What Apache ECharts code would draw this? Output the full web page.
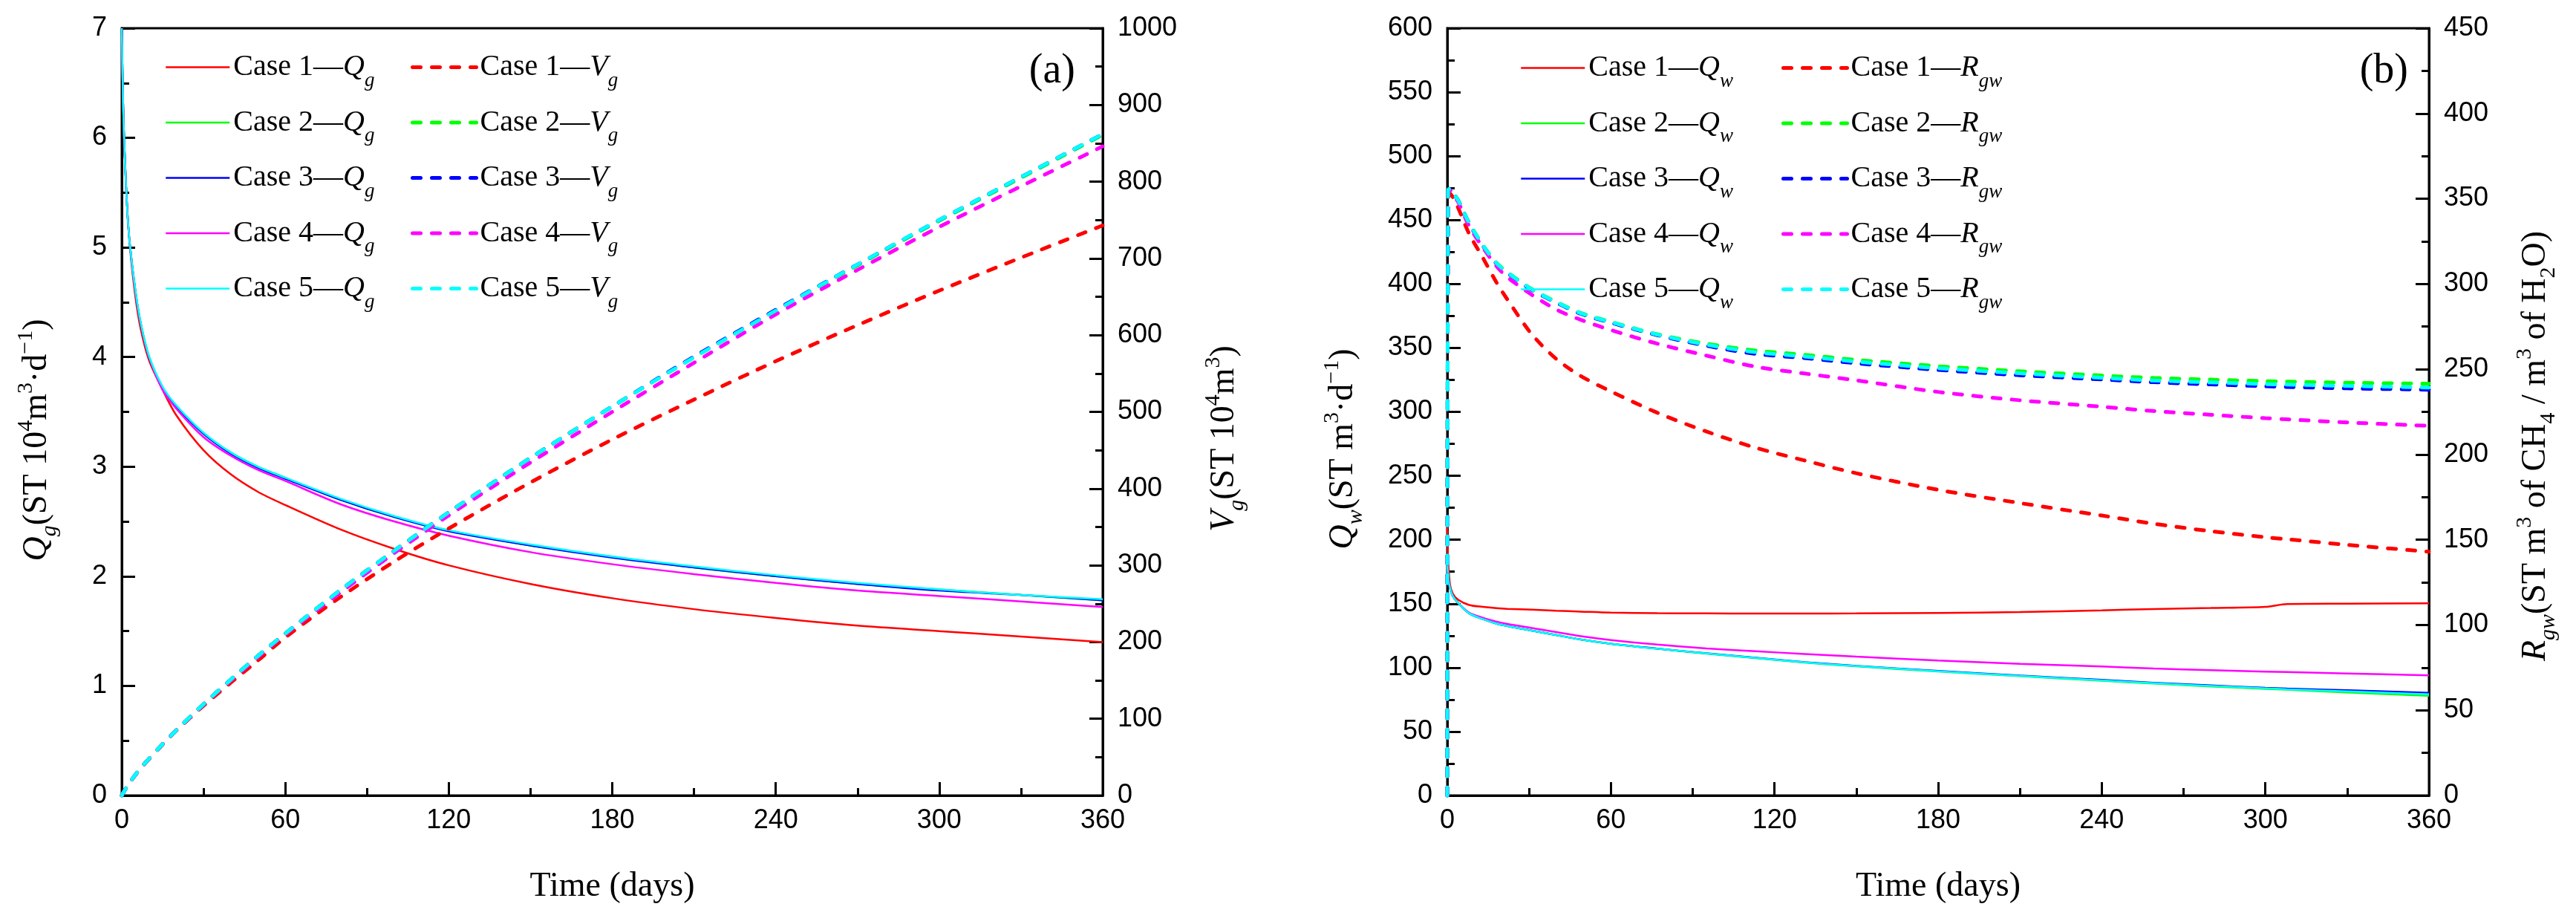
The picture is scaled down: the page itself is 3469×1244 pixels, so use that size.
<!DOCTYPE html>
<html>
<head>
<meta charset="utf-8">
<script src="https://cdn.jsdelivr.net/npm/echarts@6/dist/echarts.min.js"></script>
<style>
html,body{margin:0;padding:0;background:#fff;}
#chart{width:3469px;height:1244px;}
</style>
</head>
<body>
<div id="chart"></div>
<script>
// ---------- DATA ----------
var caseColors = ['#FF0000', '#00FF00', '#0000FF', '#FF00FF', '#00FFFF'];
var caseLabels = ['Case 1', 'Case 2', 'Case 3', 'Case 4', 'Case 5'];

// Panel (a): time (days)
var tA = [0, 0.5, 1, 2, 3, 5, 7, 10, 15, 20, 30, 40, 50, 60, 80, 100, 120, 150, 180, 210, 240, 270, 300, 330, 360];
// Qg (10^4 m3/d)
var qg1 = [7.0, 6.3, 5.9, 5.35, 5.0, 4.55, 4.25, 3.97, 3.7, 3.47, 3.15, 2.93, 2.77, 2.65, 2.43, 2.25, 2.1, 1.93, 1.8, 1.7, 1.62, 1.55, 1.5, 1.45, 1.40];
var qg2 = [7.0, 6.3, 5.9, 5.35, 5.02, 4.6, 4.3, 4.0, 3.72, 3.55, 3.3, 3.13, 3.0, 2.9, 2.7, 2.54, 2.42, 2.28, 2.18, 2.08, 2.0, 1.93, 1.88, 1.83, 1.78];
var qg3 = [7.0, 6.3, 5.9, 5.35, 5.02, 4.6, 4.3, 4.0, 3.72, 3.55, 3.3, 3.12, 2.99, 2.89, 2.7, 2.54, 2.41, 2.28, 2.17, 2.08, 2.0, 1.93, 1.87, 1.83, 1.78];
var qg4 = [7.0, 6.3, 5.9, 5.35, 5.02, 4.6, 4.3, 4.0, 3.7, 3.53, 3.27, 3.1, 2.97, 2.87, 2.66, 2.5, 2.37, 2.22, 2.11, 2.02, 1.94, 1.87, 1.82, 1.77, 1.72];
var qg5 = [7.0, 6.3, 5.9, 5.35, 5.02, 4.61, 4.31, 4.01, 3.73, 3.56, 3.31, 3.13, 3.0, 2.9, 2.71, 2.55, 2.42, 2.29, 2.18, 2.09, 2.01, 1.94, 1.88, 1.83, 1.79];
// Vg (10^4 m3)
var vg1 = [0, 3.3, 6.3, 12, 17.2, 26.7, 35.5, 47.5, 66.5, 84.5, 117, 147, 176, 206, 258, 305, 348, 408, 464, 516, 566, 613, 658, 701, 743];
var vg2 = [0, 3.3, 6.3, 12, 17.3, 27, 36, 48, 67, 85, 119, 151, 182, 211, 267, 319, 369, 440, 507, 571, 632, 691, 749, 805, 861];
var vg3 = [0, 3.3, 6.3, 12, 17.3, 27, 36, 48, 67, 85, 119, 151, 182, 211, 267, 319, 369, 440, 507, 572, 633, 692, 750, 806, 862];
var vg4 = [0, 3.3, 6.3, 12, 17.3, 27, 36, 48, 67, 85, 118.5, 150, 180.5, 210, 264, 316, 365, 434, 500, 564, 627, 685, 741, 794, 846];
var vg5 = [0, 3.3, 6.3, 12, 17.3, 27, 36, 48, 67, 85, 119, 151, 182, 211, 267, 319, 369, 440, 507, 571, 632, 692, 750, 806, 862];

// Panel (b): time (days)
var tB = [0, 0.3, 1, 2, 4, 8, 13, 18, 22, 31, 40, 49, 60, 77, 95, 113, 131, 150, 180, 210, 240, 259, 280, 300, 308, 330, 360];
// Qw (m3/d)
var qw1 = [210, 185, 165, 158, 153, 149, 147.5, 146.5, 146, 145.3, 144.5, 143.8, 143, 142.6, 142.4, 142.3, 142.3, 142.4, 142.8, 143.5, 144.8, 145.8, 146.6, 147.5, 149.7, 150, 150.3];
var qw2 = [185, 172, 162, 156, 150.5, 142.5, 138, 134.5, 132.6, 129, 125.5, 122, 118.7, 114.8, 111, 107.5, 104, 101, 97, 93.3, 89.8, 87.5, 85.3, 83.4, 82.7, 80.6, 78.0];
var qw3 = [185, 172, 162, 156, 150.5, 142.5, 138, 134.5, 132.6, 129, 125.5, 122, 118.7, 114.9, 111.2, 107.8, 104.3, 101.4, 97.4, 93.8, 90.4, 88.2, 86.1, 84.2, 83.6, 82.3, 80.3];
var qw4 = [185, 172, 162, 156, 150.5, 143, 139, 136, 134.2, 131, 127.8, 124.6, 121.6, 118, 115, 112.8, 110.7, 108.6, 105.6, 103, 100.9, 99.3, 98, 96.9, 96.5, 95.4, 93.9];
var qw5 = [185, 172, 162, 156, 150.5, 142.5, 138, 134.5, 132.6, 129, 125.5, 122, 118.7, 114.8, 111.1, 107.6, 104.1, 101.2, 97.2, 93.5, 90.1, 87.8, 85.7, 83.8, 83.1, 81.4, 79.2];
// Rgw (ST m3 CH4 / m3 H2O)
var rgw1 = [0, 350, 353, 351, 344.6, 329.5, 315.5, 301, 291, 270.5, 256, 246, 237, 224.5, 213.5, 204, 196.5, 189, 179.3, 171.5, 164.2, 159.4, 155, 151.5, 150.3, 147, 143];
var rgw2 = [0, 355, 356, 353.5, 349, 336, 323, 312.5, 307, 297, 289.5, 283, 277.8, 270.5, 265, 261, 258.5, 255.5, 251.8, 248.8, 246.3, 244.9, 243.9, 243, 242.7, 242.1, 241.5];
var rgw3 = [0, 355, 356, 353.5, 349, 335.5, 322.5, 312, 306.5, 296.5, 289, 282.5, 277.3, 270, 263.8, 259, 256.6, 253.5, 249.6, 246.5, 244, 242.4, 241.1, 240, 239.6, 238.8, 238];
var rgw4 = [0, 354, 355, 352.5, 348, 334, 321.5, 310.5, 304, 293.7, 285, 279, 273, 265, 258, 251.5, 247.5, 243.5, 236.7, 231.8, 228, 225.5, 223.3, 221.3, 220.6, 218.8, 216.8];
var rgw5 = [0, 355, 356, 353.5, 349, 335.8, 322.8, 312.3, 306.8, 296.8, 289.3, 282.8, 277.6, 270.3, 264.4, 260, 257.5, 254.5, 250.6, 247.6, 245, 243.4, 242.3, 241.3, 241, 240.2, 239.3];

// Axis tick settings
var xTicks = {min: 0, max: 360, interval: 60};
var yQg = {min: 0, max: 7, interval: 1};
var yVg = {min: 0, max: 1000, interval: 100};
var yQw = {min: 0, max: 600, interval: 50};
var yRgw = {min: 0, max: 450, interval: 50};

// ---------- BUILD ----------
var SERIF = "'Liberation Serif','Times New Roman',serif";
var SANS = "'Liberation Sans',Arial,sans-serif";

function zip(t, v) { return t.map(function (x, i) { return [x, v[i]]; }); }

var qgAll = [qg1, qg2, qg3, qg4, qg5];
var vgAll = [vg1, vg2, vg3, vg4, vg5];
var qwAll = [qw1, qw2, qw3, qw4, qw5];
var rgwAll = [rgw1, rgw2, rgw3, rgw4, rgw5];

var series = [];
function addSeries(names, arrs, t, xi, yi, dashed) {
  arrs.forEach(function (arr, k) {
    series.push({
      name: names[k], type: 'line', xAxisIndex: xi, yAxisIndex: yi,
      data: zip(t, arr), symbol: 'none', showSymbol: false,
      smooth: 0.3, animation: false,
      lineStyle: dashed ? {color: caseColors[k], width: 5, type: [11, 15], cap: 'round'}
                        : {color: caseColors[k], width: 2.5},
      itemStyle: {color: caseColors[k]},
      z: dashed ? 3 : 2
    });
  });
}
var nQg = caseLabels.map(function (c) { return c + '|Qg'; });
var nVg = caseLabels.map(function (c) { return c + '|Vg'; });
var nQw = caseLabels.map(function (c) { return c + '|Qw'; });
var nRgw = caseLabels.map(function (c) { return c + '|Rgw'; });
addSeries(nQg, qgAll, tA, 0, 0, false);
addSeries(nVg, vgAll, tA, 0, 1, true);
addSeries(nQw, qwAll, tB, 1, 2, false);
addSeries(nRgw, rgwAll, tB, 1, 3, true);

var legendRich = {
  t: {fontFamily: SERIF, fontSize: 40, lineHeight: 46, color: '#000'},
  i: {fontFamily: SERIF, fontSize: 40, fontStyle: 'italic', lineHeight: 46, color: '#000'},
  s: {fontFamily: SERIF, fontSize: 27, fontStyle: 'italic', lineHeight: 46, color: '#000', padding: [36, 0, 0, 0]}
};
function legendFmt(name) {
  var p = name.split('|');
  var sym = p[1].charAt(0), sub = p[1].slice(1);
  return '{t|' + p[0] + '\u2014}{i|' + sym + '}{s|' + sub + '}';
}
function mkLegend(data, left, top, lw) {
  return {
    data: data, orient: 'vertical', left: left, top: top, padding: 0,
    itemWidth: 86, itemHeight: 20, itemGap: 11.5, itemTextGap: 10,
    itemStyle: {opacity: 0, borderWidth: 0},
    lineStyle: {width: lw},
    formatter: legendFmt, textStyle: {rich: legendRich}, selectedMode: false
  };
}

var nameRich = {
  n: {fontFamily: SERIF, fontSize: 46, lineHeight: 56, color: '#000'},
  i: {fontFamily: SERIF, fontSize: 46, fontStyle: 'italic', lineHeight: 56, color: '#000'},
  si: {fontFamily: SERIF, fontSize: 30, fontStyle: 'italic', lineHeight: 56, color: '#000', padding: [34, 0, 0, 0]},
  sn: {fontFamily: SERIF, fontSize: 30, lineHeight: 56, color: '#000', padding: [34, 0, 0, 0]},
  up: {fontFamily: SERIF, fontSize: 30, lineHeight: 56, color: '#000', padding: [0, 0, 30, 0]}
};

function plainNum(v) { return String(v); }

function xAxisCfg(gi) {
  return {
    type: 'value', gridIndex: gi, min: xTicks.min, max: xTicks.max, interval: xTicks.interval,
    name: 'Time (days)', nameLocation: 'middle', nameGap: 100,
    nameTextStyle: {fontFamily: SERIF, fontSize: 46, color: '#000'},
    axisLine: {show: true, onZero: false, lineStyle: {color: '#000', width: 3}},
    axisTick: {show: true, inside: true, length: 18, lineStyle: {color: '#000', width: 3}},
    minorTick: {show: true, splitNumber: 2, length: 10, lineStyle: {color: '#000', width: 3}},
    axisLabel: {fontFamily: SANS, fontSize: 36, color: '#000', margin: 16, formatter: plainNum},
    splitLine: {show: false}, minorSplitLine: {show: false}
  };
}
function yAxisCfg(gi, pos, tk, name, gap, pad) {
  return {
    type: 'value', gridIndex: gi, position: pos, min: tk.min, max: tk.max, interval: tk.interval,
    name: name, nameLocation: 'middle', nameRotate: 90, nameGap: gap,
    nameTextStyle: {fontFamily: SERIF, fontSize: 46, color: '#000', rich: nameRich, padding: pad},
    axisLine: {show: true, onZero: false, lineStyle: {color: '#000', width: 3}},
    axisTick: {show: true, inside: true, length: 18, lineStyle: {color: '#000', width: 3}},
    minorTick: {show: true, splitNumber: 2, length: 10, lineStyle: {color: '#000', width: 3}},
    axisLabel: {fontFamily: SANS, fontSize: 36, color: '#000', margin: 20, formatter: plainNum},
    splitLine: {show: false}, minorSplitLine: {show: false}
  };
}

var option = {
  backgroundColor: '#fff',
  animation: false,
  grid: [
    {left: 164, top: 38, width: 1321, height: 1033, show: true, borderColor: '#000', borderWidth: 3, backgroundColor: 'transparent'},
    {left: 1949, top: 38, width: 1322, height: 1033, show: true, borderColor: '#000', borderWidth: 3, backgroundColor: 'transparent'}
  ],
  xAxis: [xAxisCfg(0), xAxisCfg(1)],
  yAxis: [
    yAxisCfg(0, 'left', yQg, '{i|Q}{si|g}{n|(ST 10}{up|4}{n|m}{up|3}{n|\u00B7d}{up|\u22121}{n|)}', 86, [0, 76, 0, 0]),
    yAxisCfg(0, 'right', yVg, '{i|V}{si|g}{n|(ST 10}{up|4}{n|m}{up|3}{n|)}', 136, [0, 72, 0, 0]),
    yAxisCfg(1, 'left', yQw, '{i|Q}{si|w}{n|(ST m}{up|3}{n|\u00B7d}{up|\u22121}{n|)}', 112, [0, 100, 0, 0]),
    yAxisCfg(1, 'right', yRgw, '{i|R}{si|gw}{n|(ST m}{up|3}{n| of CH}{sn|4}{n| / m}{up|3}{n| of H}{sn|2}{n|O)}', 116, [0, 92, 0, 0])
  ],
  legend: [
    mkLegend(nQg, 222, 59, 2.5),
    mkLegend(nVg, 553, 59, 5),
    mkLegend(nQw, 2047, 60, 2.5),
    mkLegend(nRgw, 2399, 60, 5)
  ],
  graphic: [
    {type: 'text', right: 3469 - 1448, top: 68, style: {text: '(a)', font: '56px ' + SERIF, fill: '#000'}},
    {type: 'text', right: 3469 - 3243, top: 68, style: {text: '(b)', font: '56px ' + SERIF, fill: '#000'}}
  ],
  series: series
};

var chart = echarts.init(document.getElementById('chart'), null, {renderer: 'canvas'});
chart.setOption(option);
</script>
</body>
</html>
